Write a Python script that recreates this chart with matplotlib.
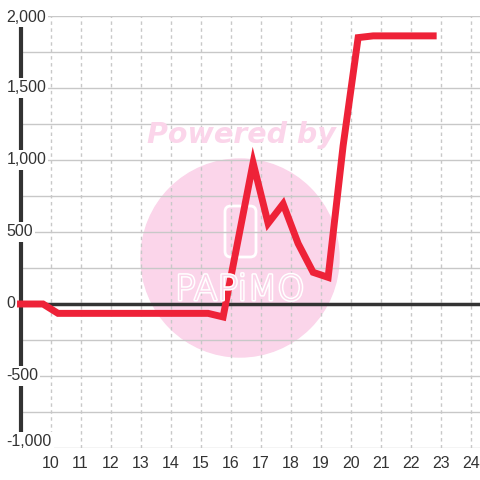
import matplotlib
matplotlib.use("Agg")
import matplotlib.pyplot as plt
from matplotlib.patches import Ellipse, FancyBboxPatch
import matplotlib.patheffects as pe

# hourly-ish data (x = time of day, y = difference)
hours = [9.0, 9.75, 10.25, 10.75, 11.25, 11.75, 12.25, 12.75, 13.25, 13.75,
         14.25, 14.75, 15.25, 15.75, 16.25, 16.75, 17.25, 17.75, 18.25,
         18.75, 19.25, 19.75, 20.25, 20.75, 21.25, 21.75, 22.25, 22.75]
values = [0, 0, -65, -65, -65, -65, -65, -65, -65, -65,
          -65, -65, -65, -90, 445, 980, 560, 695, 420,
          220, 185, 1100, 1850, 1862, 1862, 1862, 1862, 1862]

x_ticks = list(range(10, 25))
y_ticks = [-1000, -500, 0, 500, 1000, 1500, 2000]
y_grid = list(range(-1000, 2001, 250))

RED = "#EE2238"
DARK = "#333333"
GRID = "#C8C8C8"
PINK = "#FBD5EA"

fig = plt.figure(figsize=(4.8, 4.8), dpi=100)
ax = fig.add_axes([20.5 / 480, 32 / 480, 459.5 / 480, 432 / 480])
ax.set_xlim(9.0, 24.31)
ax.set_ylim(-1000, 2000)

for s in ax.spines.values():
    s.set_visible(False)

# grid
for yv in y_grid:
    ax.axhline(yv, color=GRID, lw=1, zorder=1)
for xv in x_ticks:
    ax.axvline(xv, color=GRID, lw=1, ls=(0, (2.5, 2.5)), zorder=1)

# watermark
circ = Ellipse((240 / 480, 222 / 480), 198 / 480, 198 / 480,
               transform=fig.transFigure, color=PINK, zorder=0.5, clip_on=False)
ax.add_patch(circ)
phone = FancyBboxPatch((225 / 480, 223 / 480), 31 / 480, 51 / 480,
                       boxstyle="round,pad=0,rounding_size=0.012",
                       transform=fig.transFigure, fc="none", ec="white",
                       lw=2, zorder=0.6, clip_on=False)
ax.add_patch(phone)
fig.text(240 / 480, 190 / 480, "PAPiMO", color=PINK, fontsize=25,
         ha="center", va="center", family="DejaVu Sans", weight="light",
         zorder=0.7,
         path_effects=[pe.withStroke(linewidth=2.2, foreground="white")])
fig.text(241 / 480, 345 / 480, "Powered by", color=PINK, fontsize=20.5,
         ha="center", va="center", family="DejaVu Sans", weight="bold",
         style="italic", zorder=0.7)

# axis lines
ax.axhline(0, color=DARK, lw=2.5, zorder=3)
ax.axvline(9.0, color=DARK, lw=3, zorder=3, clip_on=False)

# data line
ax.plot(hours, values, color=RED, lw=5, solid_capstyle="projecting",
        solid_joinstyle="miter", zorder=6, clip_on=False)

# ticks
ax.set_xticks(x_ticks)
ax.set_xticklabels([str(v) for v in x_ticks])
ax.tick_params(axis="x", length=0, pad=6, labelsize=11.5, colors=DARK)
ax.set_yticks([])
for yv in y_ticks:
    ypos = yv
    if yv == -1000:
        ypos = yv + 48
    elif yv == 2000:
        ypos = yv - 10
    ax.text(-0.031, ypos, f"{yv:,}", transform=ax.get_yaxis_transform(),
            ha="left", va="center", fontsize=11.5, color=DARK, zorder=5,
            family="Liberation Sans", clip_on=False,
            bbox=dict(fc="white", ec="none", pad=1.5))
for lbl in ax.get_xticklabels():
    lbl.set_family("Liberation Sans")

fig.savefig("out.png", dpi=100)
